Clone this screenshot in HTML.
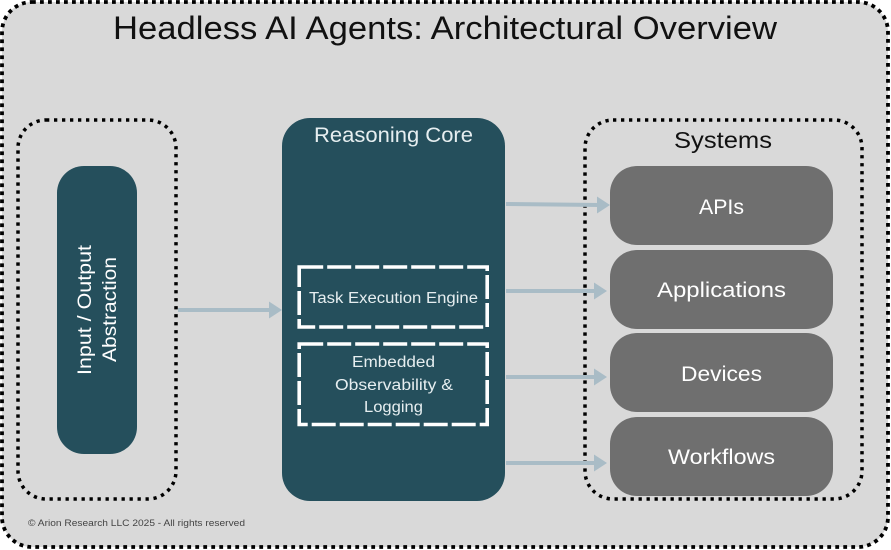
<!DOCTYPE html>
<html>
<head>
<meta charset="utf-8">
<style>
html,body{margin:0;padding:0;background:#fff;width:891px;height:550px;overflow:hidden}
svg{display:block}
text{font-family:"Liberation Sans",sans-serif}
</style>
</head>
<body>
<svg width="891" height="550" viewBox="0 0 891 550" xmlns="http://www.w3.org/2000/svg">
<rect x="2" y="2" width="886" height="545" rx="30" fill="#d9d9d9" stroke="#000" stroke-width="3.800" stroke-dasharray="3.800 4.200"/>
<text x="113" y="39" font-size="32" fill="#111" textLength="664" lengthAdjust="spacingAndGlyphs">Headless AI Agents: Architectural Overview</text>

<rect x="18" y="120" width="158" height="379" rx="28" fill="none" stroke="#000" stroke-width="3.500" stroke-dasharray="3.300 4.700"/>
<rect x="57" y="166" width="80" height="288" rx="27" fill="#254f5c"/>
<text transform="translate(91 375) rotate(-90)" font-size="19" fill="#fff" textLength="130" lengthAdjust="spacingAndGlyphs">Input / Output</text>
<text transform="translate(116 362) rotate(-90)" font-size="19" fill="#fff" textLength="105" lengthAdjust="spacingAndGlyphs">Abstraction</text>

<rect x="282" y="118" width="223" height="383" rx="28" fill="#254f5c"/>
<text x="314" y="142" font-size="21" fill="#e6eef0" textLength="159" lengthAdjust="spacingAndGlyphs">Reasoning Core</text>
<rect x="299.200" y="267" width="188" height="60" fill="none" stroke="#fff" stroke-width="3.600" stroke-dasharray="24 4"/>
<text x="309" y="303" font-size="15.500" fill="#e6eef0" textLength="169" lengthAdjust="spacingAndGlyphs">Task Execution Engine</text>
<rect x="299.200" y="344" width="188" height="80.500" fill="none" stroke="#fff" stroke-width="3.600" stroke-dasharray="24 4"/>
<text x="352" y="367" font-size="15.500" fill="#e6eef0" textLength="83" lengthAdjust="spacingAndGlyphs">Embedded</text>
<text x="335" y="390" font-size="15.500" fill="#e6eef0" textLength="118" lengthAdjust="spacingAndGlyphs">Observability &amp;</text>
<text x="364" y="412" font-size="15.500" fill="#e6eef0" textLength="59" lengthAdjust="spacingAndGlyphs">Logging</text>

<rect x="585" y="120" width="277" height="379" rx="28" fill="none" stroke="#000" stroke-width="3.500" stroke-dasharray="3.300 4.700"/>
<text x="674" y="148" font-size="23" fill="#111" textLength="98" lengthAdjust="spacingAndGlyphs">Systems</text>
<rect x="610" y="166" width="223" height="79" rx="27" fill="#6f6f6f"/>
<rect x="610" y="250" width="223" height="79" rx="27" fill="#6f6f6f"/>
<rect x="610" y="333" width="223" height="79" rx="27" fill="#6f6f6f"/>
<rect x="610" y="417" width="223" height="79" rx="27" fill="#6f6f6f"/>
<text x="699" y="214" font-size="21" fill="#fff" textLength="45" lengthAdjust="spacingAndGlyphs">APIs</text>
<text x="657" y="297" font-size="21" fill="#fff" textLength="129" lengthAdjust="spacingAndGlyphs">Applications</text>
<text x="681" y="381" font-size="21" fill="#fff" textLength="81" lengthAdjust="spacingAndGlyphs">Devices</text>
<text x="668" y="464" font-size="21" fill="#fff" textLength="107" lengthAdjust="spacingAndGlyphs">Workflows</text>

<g stroke="#a9bcc6" stroke-width="4" fill="none">
<line x1="178" y1="310" x2="272" y2="310"/>
<line x1="506" y1="204" x2="600" y2="205"/>
<line x1="506" y1="291" x2="597" y2="291"/>
<line x1="506" y1="377" x2="597" y2="377"/>
<line x1="506" y1="463" x2="597" y2="463"/>
</g>
<g fill="#a9bcc6">
<path d="M269 301.500L282 310L269 318.500Z"/>
<path d="M597 196.500L610 205L597 213.500Z"/>
<path d="M594 282.500L607 291L594 299.500Z"/>
<path d="M594 368.500L607 377L594 385.500Z"/>
<path d="M594 454.500L607 463L594 471.500Z"/>
</g>

<text x="28" y="526" font-size="9" fill="#444" textLength="217" lengthAdjust="spacingAndGlyphs">© Arion Research LLC 2025 - All rights reserved</text>
</svg>
</body>
</html>
